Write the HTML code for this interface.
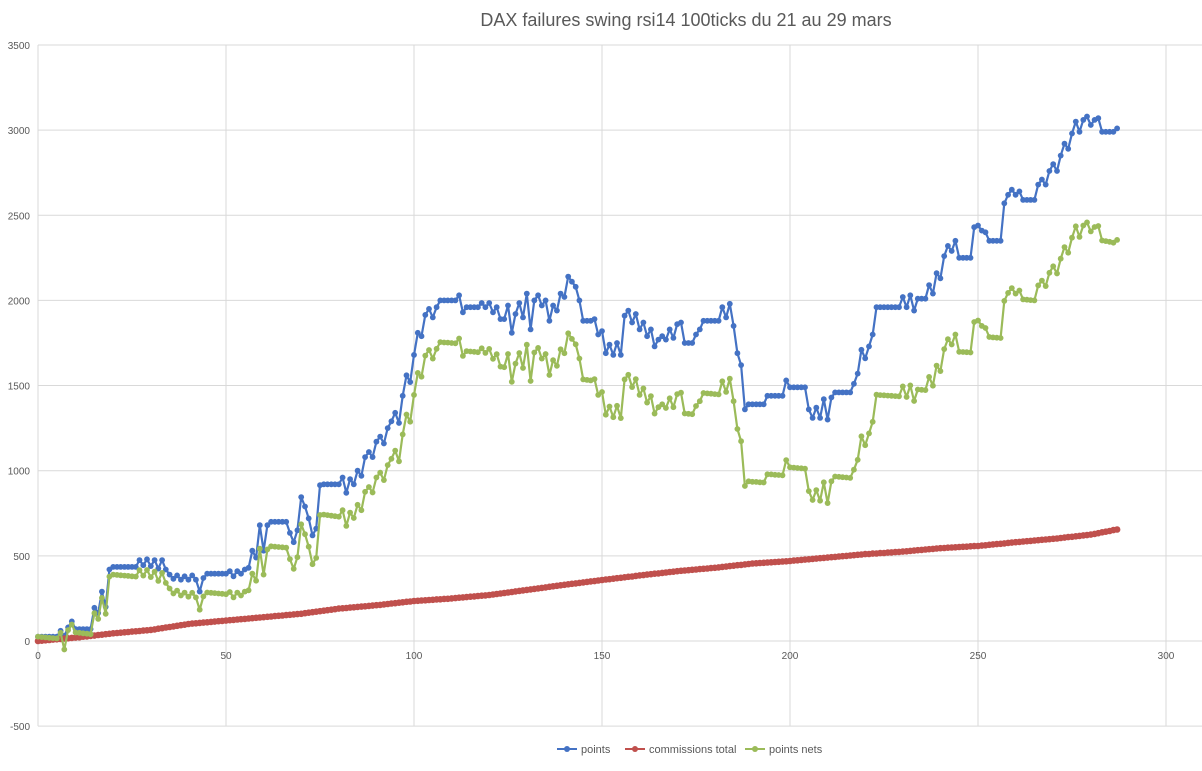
<!DOCTYPE html>
<html><head><meta charset="utf-8"><style>
html,body{margin:0;padding:0;background:#fff;}
body{width:1202px;height:766px;overflow:hidden;font-family:"Liberation Sans",sans-serif;}
</style></head><body>
<svg id="chart" width="1202" height="766" xmlns="http://www.w3.org/2000/svg" font-family="Liberation Sans, sans-serif">
<rect x="0" y="0" width="1202" height="766" fill="#fff"/>
<text x="686" y="26" text-anchor="middle" font-size="18" fill="#595959">DAX failures swing rsi14 100ticks du 21 au 29 mars</text>
<g id="grid"></g><g id="axes"></g><g id="series"></g>
<g font-size="11" fill="#595959">
<g><line x1="557" y1="749" x2="577" y2="749" stroke="#4472c4" stroke-width="2"/><circle cx="567" cy="749" r="3" fill="#4472c4"/><text x="581" y="753">points</text></g>
<g><line x1="625" y1="749" x2="645" y2="749" stroke="#c0504d" stroke-width="2"/><circle cx="635" cy="749" r="3" fill="#c0504d"/><text x="649" y="753">commissions total</text></g>
<g><line x1="745" y1="749" x2="765" y2="749" stroke="#9bbb59" stroke-width="2"/><circle cx="755" cy="749" r="3" fill="#9bbb59"/><text x="769" y="753">points nets</text></g>
</g>
</svg>
<script>
const xTicks=[0,50,100,150,200,250,300];
const yTicks=[-500,0,500,1000,1500,2000,2500,3000,3500];
const points=[25,25,25,25,25,25,60,30,80,115,
70,70,70,70,70,195,165,290,200,420,
435,435,435,435,435,435,435,475,445,480,
440,475,425,475,420,390,365,385,360,380,
360,385,360,290,370,395,395,395,395,395,
395,410,380,410,395,420,430,530,490,680,
530,680,700,700,700,700,700,635,580,650,
845,790,720,620,660,915,920,920,920,920,
920,960,870,950,920,1000,970,1080,1110,1080,
1170,1200,1160,1250,1290,1340,1280,1440,1560,1520,
1680,1810,1790,1915,1950,1900,1960,2000,2000,2000,
2000,2000,2030,1930,1960,1960,1960,1960,1985,1960,
1985,1930,1960,1890,1890,1970,1810,1920,1985,1900,
2040,1830,2000,2030,1970,2000,1880,1970,1940,2040,
2020,2140,2110,2080,2000,1880,1880,1880,1890,1800,
1820,1690,1740,1680,1750,1680,1910,1940,1870,1920,
1830,1870,1790,1830,1730,1770,1790,1770,1830,1780,
1860,1870,1750,1750,1750,1800,1830,1880,1880,1880,
1880,1880,1960,1900,1980,1850,1690,1620,1360,1390,
1390,1390,1390,1390,1440,1440,1440,1440,1440,1530,
1490,1490,1490,1490,1490,1360,1310,1370,1310,1420,
1300,1430,1460,1460,1460,1460,1460,1510,1570,1710,
1660,1730,1800,1960,1960,1960,1960,1960,1960,1960,
2020,1960,2030,1940,2010,2010,2010,2090,2040,2160,
2130,2260,2320,2290,2350,2250,2250,2250,2250,2430,
2440,2410,2400,2350,2350,2350,2350,2570,2620,2650,
2620,2640,2590,2590,2590,2590,2680,2710,2680,2760,
2800,2760,2850,2920,2890,2980,3050,2990,3060,3080,
3030,3060,3070,2990,2990,2990,2990,3010];
const commissions=[0,2,4,6,8,10,12,14,16,18,
20,22,25,27,30,32,35,37,40,42,
45,47,49,51,53,55,57,59,61,63,
65,68,72,75,79,82,86,89,93,96,
100,102,104,106,108,110,112,114,116,118,
120,122,124,126,128,130,132,134,136,138,
140,142,144,146,148,150,152,154,156,158,
160,163,166,169,172,175,178,181,184,187,
190,192,194,196,198,200,202,204,206,208,
210,212,215,217,220,222,225,227,230,232,
235,236,238,239,241,242,244,245,247,248,
250,252,254,256,258,260,262,264,266,268,
270,273,276,279,282,285,288,291,294,297,
300,303,306,309,312,315,318,321,324,327,
330,333,336,338,341,344,347,350,352,355,
358,361,363,366,369,371,374,377,379,382,
385,387,390,392,395,397,400,402,405,407,
410,412,414,416,418,420,422,424,426,428,
430,432,435,437,440,442,445,447,450,452,
455,456,458,459,461,462,464,465,467,468,
470,472,474,476,478,480,482,484,486,488,
490,492,494,496,498,500,502,504,506,508,
510,511,513,514,516,517,519,520,522,523,
525,527,529,531,533,535,537,539,541,543,
545,546,548,549,550,552,553,554,556,557,
558,560,562,565,567,569,571,573,576,578,
580,582,584,586,588,590,592,594,596,598,
600,602,605,607,610,612,615,617,620,622,
625,629,633,638,642,646,651,655];
const pointsNets=[25,23,21,19,17,15,48,-50,64,97,
50,48,45,43,40,163,130,253,160,378,
390,388,386,384,382,380,378,416,384,417,
375,407,353,400,341,308,279,296,267,284,
260,283,256,184,262,285,283,281,279,277,
275,288,256,284,267,290,298,396,354,542,
390,538,556,554,552,550,548,481,424,492,
685,627,554,451,488,740,742,739,736,733,
730,768,676,754,722,800,768,876,904,872,
960,988,945,1033,1070,1118,1055,1213,1330,1288,
1445,1574,1552,1676,1709,1658,1716,1755,1753,1752,
1750,1748,1776,1674,1702,1700,1698,1696,1719,1692,
1715,1657,1684,1611,1608,1685,1522,1629,1691,1603,
1740,1527,1694,1721,1658,1685,1562,1649,1616,1713,
1690,1807,1774,1742,1659,1536,1533,1530,1538,1445,
1462,1329,1377,1314,1381,1309,1536,1563,1491,1538,
1445,1483,1400,1438,1335,1373,1390,1368,1425,1373,
1450,1458,1336,1334,1332,1380,1408,1456,1454,1452,
1450,1448,1525,1463,1540,1408,1245,1173,910,938,
935,934,932,931,979,978,976,975,973,1062,
1020,1018,1016,1014,1012,880,828,886,824,932,
810,938,966,964,962,960,958,1006,1064,1202,
1150,1219,1287,1446,1444,1443,1441,1440,1438,1437,
1495,1433,1501,1409,1477,1475,1473,1551,1499,1617,
1585,1714,1772,1741,1800,1698,1697,1696,1694,1873,
1882,1850,1838,1785,1783,1781,1779,1997,2044,2072,
2040,2058,2006,2004,2002,2000,2088,2116,2084,2162,
2200,2158,2245,2313,2280,2368,2435,2373,2440,2458,
2405,2431,2437,2352,2348,2344,2339,2355];

const NS='http://www.w3.org/2000/svg';
const X0=38,PX=3.76,Y0=641,PY=0.1703;
function xs(v){return X0+v*PX;}
function ys(v){return Y0-v*PY;}
function mk(tag,attrs,parent){const e=document.createElementNS(NS,tag);for(const k in attrs)e.setAttribute(k,attrs[k]);parent.appendChild(e);return e;}
const grid=document.getElementById('grid'),axes=document.getElementById('axes'),ser=document.getElementById('series');
yTicks.forEach(t=>{
  const l=mk('line',{x1:X0,x2:1202,y1:ys(t),y2:ys(t),stroke:'#d9d9d9','stroke-width':1},grid);
  
  
  const tx=mk('text',{x:30,y:ys(t)+4,'text-anchor':'end','font-size':10,fill:'#595959'},axes);
  tx.textContent=t;
  
  
});
xTicks.forEach(t=>{
  const l=mk('line',{x1:xs(t),x2:xs(t),y1:ys(3500),y2:ys(-500),stroke:'#d9d9d9','stroke-width':1},grid);
  
  
  const tx=mk('text',{x:xs(t),y:Y0+18,'text-anchor':'middle','font-size':10,fill:'#595959'},axes);
  tx.textContent=t;
  
  
});
function drawSeries(arr,color,name,r){
  const g=mk('g',{},ser);
  
  
  const d=arr.map((v,i)=>(i?'L':'M')+xs(i).toFixed(1)+','+ys(v).toFixed(1)).join('');
  const p=mk('path',{d:d,fill:'none',stroke:color,'stroke-width':2.2,'stroke-linejoin':'round'},g);
  
  
  arr.forEach((v,i)=>{
    const c=mk('circle',{cx:xs(i).toFixed(1),cy:ys(v).toFixed(1),r:r,fill:color},g);
    
    
  });
}
drawSeries(points,'#4472c4','points',2.9);
drawSeries(commissions,'#c0504d','commissions-total',3.3);
drawSeries(pointsNets,'#9bbb59','points-nets',2.9);
</script>
</body></html>
